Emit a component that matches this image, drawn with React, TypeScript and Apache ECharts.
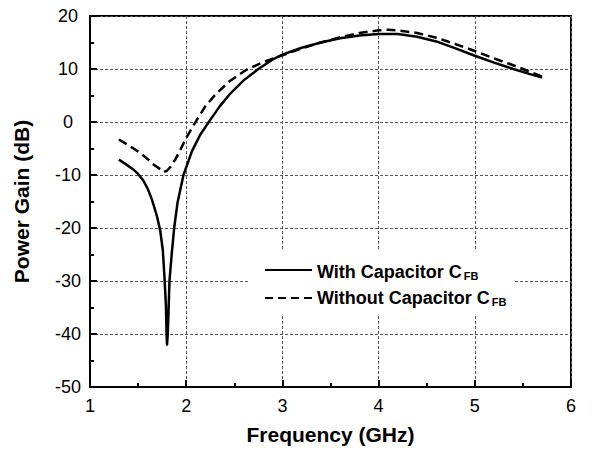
import React, { useEffect, useRef } from "react";
import * as echarts from "echarts";

const xTicks = [1, 2, 3, 4, 5, 6];
const yTicks = [-50, -40, -30, -20, -10, 0, 10, 20];

const withCapFreq = [1.30, 1.375, 1.45, 1.50, 1.556, 1.60, 1.643, 1.695, 1.73, 1.757, 1.775, 1.789, 1.796, 1.801, 1.808, 1.816, 1.826, 1.851, 1.875, 1.91, 1.972, 2.06, 2.146, 2.25, 2.35, 2.45, 2.60, 2.75, 2.90, 3.00, 3.20, 3.40, 3.60, 3.80, 4.00, 4.20, 4.40, 4.60, 4.80, 5.00, 5.20, 5.40, 5.60, 5.70];
const withCapGain = [-7.1, -8.0, -8.95, -9.8, -11.1, -12.6, -14.6, -17.7, -20.5, -24.2, -29.5, -34.6, -40.0, -42.0, -40.0, -36.0, -30.0, -24.6, -20.0, -15.2, -10.0, -5.5, -2.4, 0.4, 3.0, 5.2, 7.9, 10.0, 11.8, 12.7, 14.0, 15.0, 15.8, 16.3, 16.6, 16.6, 16.1, 15.2, 13.9, 12.5, 11.2, 10.0, 8.9, 8.4];

const withoutCapFreq = [1.30, 1.40, 1.52, 1.60, 1.66, 1.73, 1.764, 1.80, 1.84, 1.886, 1.94, 2.00, 2.11, 2.20, 2.30, 2.45, 2.63, 2.80, 3.00, 3.20, 3.40, 3.60, 3.80, 4.00, 4.10, 4.20, 4.40, 4.60, 4.80, 5.00, 5.20, 5.40, 5.60, 5.70];
const withoutCapGain = [-3.3, -4.4, -5.8, -7.0, -8.0, -8.9, -9.45, -9.2, -8.4, -7.1, -5.2, -3.0, 0.4, 3.0, 5.1, 7.7, 9.9, 11.3, 12.6, 13.9, 15.0, 16.0, 16.8, 17.3, 17.4, 17.3, 16.8, 15.9, 14.7, 13.4, 12.0, 10.7, 9.3, 8.6];

const seriesNames = ["With Capacitor C", "Without Capacitor C"];
const subscript = "FB";

const FONT = "'Liberation Sans', Arial, sans-serif";

export default function App() {
  const ref = useRef<HTMLDivElement>(null);
  useEffect(() => {
    if (!ref.current) return;
    const chart = echarts.init(ref.current, null, { renderer: "svg" });
    const pairs = (xs: number[], ys: number[]) => xs.map((x, i) => [x, ys[i]]);
    const tickCommon = {
      axisLine: { show: true, onZero: false, lineStyle: { color: "#000", width: 2 } },
      axisTick: { show: true, inside: true, length: 7, lineStyle: { color: "#000", width: 2 } },
      minorTick: { show: true, splitNumber: 2, length: 4, lineStyle: { color: "#000", width: 2 } },
      splitLine: { show: true, lineStyle: { color: "#555", width: 1, type: [3, 2] } },
    };
    const rich = {
      m: { fontSize: 18, fontWeight: "bold", fontFamily: FONT, color: "#000", lineHeight: 20, verticalAlign: "bottom" },
      s: { fontSize: 11, fontWeight: "bold", fontFamily: FONT, color: "#000", lineHeight: 12, verticalAlign: "bottom", padding: [0, 0, 0, 2] },
    };
    chart.setOption({
      animation: false,
      backgroundColor: "#fff",
      grid: { left: 90, right: 21, top: 16, bottom: 64, show: true, borderColor: "#000", borderWidth: 2 },
      xAxis: {
        type: "value",
        min: xTicks[0],
        max: xTicks[xTicks.length - 1],
        interval: 1,
        name: "Frequency (GHz)",
        nameLocation: "middle",
        nameGap: 37,
        nameTextStyle: { fontSize: 21, fontWeight: "bold", fontFamily: FONT, color: "#000" },
        axisLabel: { fontSize: 18, fontFamily: FONT, color: "#000", margin: 10 },
        ...tickCommon,
      },
      yAxis: {
        type: "value",
        min: yTicks[0],
        max: yTicks[yTicks.length - 1],
        interval: 10,
        name: "Power Gain (dB)",
        nameLocation: "middle",
        nameGap: 58,
        nameTextStyle: { fontSize: 21, fontWeight: "bold", fontFamily: FONT, color: "#000" },
        axisLabel: { fontSize: 18, fontFamily: FONT, color: "#000", margin: 22, align: "center" },
        ...tickCommon,
      },
      series: [
        {
          name: seriesNames[0],
          type: "line",
          showSymbol: false,
          smooth: false,
          data: pairs(withCapFreq, withCapGain),
          lineStyle: { color: "#000", width: 2.5, type: "solid", join: "round" },
          z: 3,
        },
        {
          name: seriesNames[1],
          type: "line",
          showSymbol: false,
          smooth: false,
          data: pairs(withoutCapFreq, withoutCapGain),
          lineStyle: { color: "#000", width: 2.5, type: [9, 5], join: "round" },
          z: 3,
        },
      ],
      graphic: [
        { type: "rect", z: 1, shape: { x: 250, y: 250, width: 263, height: 65 }, style: { fill: "#fff" } },
        { type: "line", z: 2, shape: { x1: 265, y1: 270, x2: 312, y2: 270 }, style: { stroke: "#000", lineWidth: 2 } },
        { type: "line", z: 2, shape: { x1: 265, y1: 298, x2: 313, y2: 298 }, style: { stroke: "#000", lineWidth: 2, lineDash: [8, 5] } },
        {
          type: "text",
          z: 2,
          x: 317,
          y: 271,
          style: { text: `{m|${seriesNames[0]}}{s|${subscript}}`, rich, verticalAlign: "middle", align: "left" },
        },
        {
          type: "text",
          z: 2,
          x: 317,
          y: 297,
          style: { text: `{m|${seriesNames[1]}}{s|${subscript}}`, rich, verticalAlign: "middle", align: "left" },
        },
      ],
    });
    return () => chart.dispose();
  }, []);
  return <div ref={ref} style={{ width: 592, height: 451, position: "absolute", left: 0, top: 0 }} />;
}
